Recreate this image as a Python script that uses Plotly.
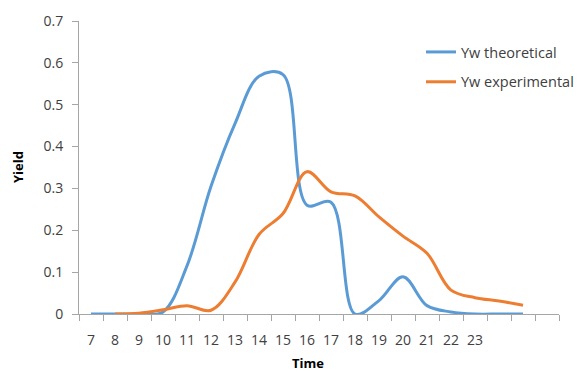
import plotly.graph_objects as go

time = [7, 8, 9, 10, 11, 12, 13, 14, 15, 16, 17, 18, 19, 20, 21, 22, 23, 24, 25]
yw_theoretical = [0, 0, 0, 0.005, 0.115, 0.305, 0.455, 0.568, 0.572, 0.26, 0.267, 0.0, 0.032, 0.089, 0.02, 0.005, 0.0, 0.0, 0.0]
yw_experimental = [None, 0, 0.002, 0.01, 0.02, 0.009, 0.076, 0.19, 0.24, 0.34, 0.292, 0.282, 0.232, 0.186, 0.145, 0.057, 0.039, 0.031, 0.021]
tick_labels = [str(t) for t in range(7, 24)]
tick_positions = list(range(7, 24))

# page body has an 8px margin, so figure coordinates = screen - 8
OFF = 8
W, H = 584 - OFF, 372 - OFF
L, T = 79 - OFF, 21 - OFF
pw, ph = 480, 293
R, B = W - L - pw, H - T - ph


def px(xs):
    return (xs - OFF - L) / pw


def py(ys):
    return (H - B - (ys - OFF)) / ph


axis_col = "#A6A6A6"
text_col = "#404040"
font_fam = "Open Sans, Lato, sans-serif"

fig = go.Figure()
fig.add_trace(go.Scatter(x=time, y=yw_theoretical, mode="lines", name="Yw theoretical",
                         line=dict(color="#5B9BD5", width=3, shape="spline", smoothing=1),
                         legendgroup="a"))
fig.add_trace(go.Scatter(x=time, y=yw_experimental, mode="lines", name="Yw experimental",
                         line=dict(color="#ED7D31", width=3, shape="spline", smoothing=1),
                         legendgroup="b"))

fig.update_layout(
    width=W, height=H,
    margin=dict(l=L, r=R, t=T, b=B, autoexpand=False),
    plot_bgcolor="white", paper_bgcolor="white",
    font=dict(family=font_fam, size=14, color=text_col),
    showlegend=True,
    legend=dict(x=px(421), y=py(36), xanchor="left", yanchor="top",
                bgcolor="rgba(0,0,0,0)", tracegroupgap=8, font=dict(size=14.5, color=text_col)),
    xaxis=dict(range=[6.5, 26.5], tickmode="array", tickvals=tick_positions, ticktext=tick_labels,
               ticks="", showgrid=False, zeroline=False, showline=True, linecolor=axis_col,
               linewidth=1, ticklabelstandoff=13, automargin=False,
               tickfont=dict(size=14, color=text_col),
               minor=dict(tickmode="linear", tick0=6.5, dtick=1, ticks="outside", ticklen=6,
                          tickcolor=axis_col, tickwidth=1, showgrid=False)),
    yaxis=dict(range=[0, 0.7], dtick=0.1, ticks="outside", ticklen=6, tickcolor=axis_col,
               showgrid=False, zeroline=False, showline=True, linecolor=axis_col, linewidth=1,
               ticklabelstandoff=6, automargin=False, tickfont=dict(size=14, color=text_col)),
    annotations=[
        dict(text="<b>Time</b>", xref="paper", yref="paper", x=px(308), y=py(363),
             showarrow=False, font=dict(size=13, color="#000000"), xanchor="center", yanchor="middle"),
        dict(text="<b>Yield</b>", xref="paper", yref="paper", x=px(18), y=py(167),
             showarrow=False, textangle=-90, font=dict(size=13, color="#000000"),
             xanchor="center", yanchor="middle"),
    ],
)

fig.write_html("out.html")
